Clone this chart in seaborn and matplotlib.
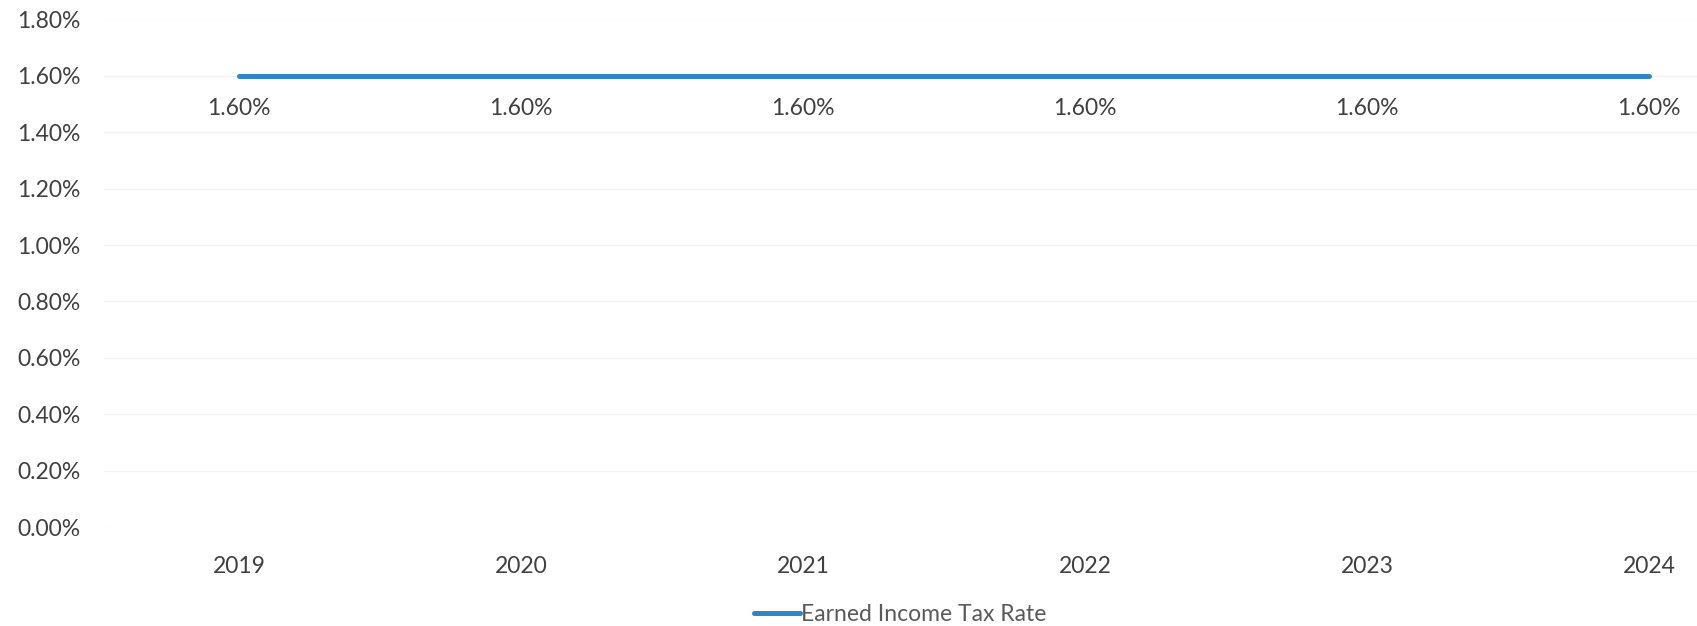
import matplotlib
matplotlib.use("Agg")
import matplotlib.pyplot as plt
import seaborn as sns
import pandas as pd
from matplotlib.ticker import FuncFormatter

years = ["2019", "2020", "2021", "2022", "2023", "2024"]
rate = [1.60, 1.60, 1.60, 1.60, 1.60, 1.60]
series_name = "Earned Income Tax Rate"

df = pd.DataFrame({"Year": years, "Rate": rate, "Series": series_name})

sns.set_theme(style="white")
plt.rcParams['font.family'] = ['Lato', 'DejaVu Sans']

text_color = "#404040"
line_color = "#2E86C9"
fs = 16.5

fig = plt.figure(figsize=(16.97, 6.26), dpi=100)
ax = fig.add_axes([104 / 1697, 1 - 527 / 626, 1 - 104 / 1697, (527 - 19.5) / 626])

sns.lineplot(data=df, x="Year", y="Rate", hue="Series", palette=[line_color],
             linewidth=3.6, ax=ax, sort=False, legend=True)

ax.set_ylim(0, 1.8)
ax.set_xlim(-0.48, 5.17)
ax.set_yticks([i * 0.2 for i in range(10)])
ax.yaxis.set_major_formatter(FuncFormatter(lambda v, p: f"{v:.2f}%"))
ax.grid(axis="y", color="#f3f3f3", linewidth=1)
ax.grid(axis="x", visible=False)
for s in ax.spines.values():
    s.set_visible(False)
ax.tick_params(axis="y", labelsize=fs, colors=text_color, pad=17, length=0)
ax.tick_params(axis="x", labelsize=fs, colors=text_color, pad=21, length=0)
ax.set_xlabel("")
ax.set_ylabel("")

for i, v in enumerate(rate):
    ax.annotate(f"{v:.2f}%", (i, v), xytext=(0, -16), textcoords="offset points",
                ha="center", va="top", fontsize=fs, color=text_color)

leg = ax.legend(loc="upper center", bbox_to_anchor=(0.5, -0.112), frameon=False,
                fontsize=fs, handlelength=2.0, handletextpad=0.05)
for t in leg.get_texts():
    t.set_color("#595959")

fig.savefig("out.png", dpi=100, facecolor="white")
